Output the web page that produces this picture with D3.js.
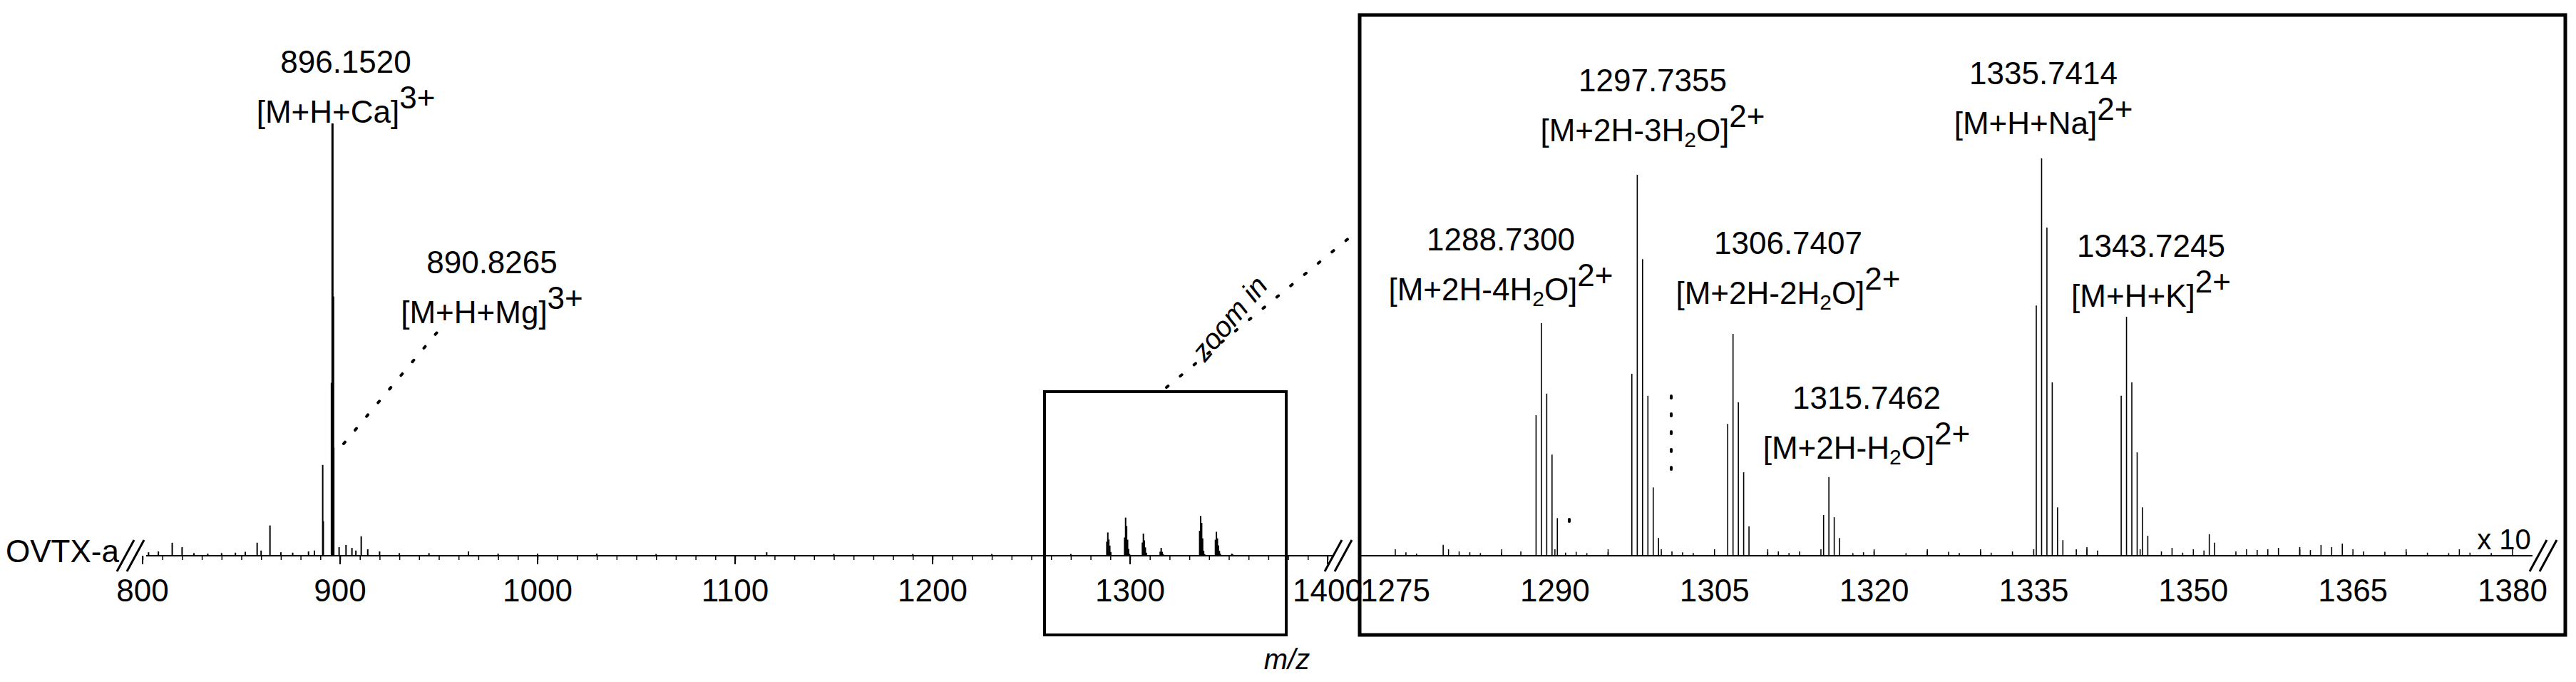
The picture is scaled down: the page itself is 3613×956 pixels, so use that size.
<!DOCTYPE html><html><head><meta charset="utf-8">
<script src="https://cdn.jsdelivr.net/npm/d3@7"></script>
<style>body{margin:0;background:#fff}text{font-family:"Liberation Sans",Arial,sans-serif;fill:#000}</style></head><body>
<svg id="c" width="3613" height="956"></svg>
<script>
// main spectrum peaks: m/z, relative intensity (%)
const mainMz  = [803,808,815,820,826,833,840,847,852,858,860,864.5,870,876,884,887,891.2,891.5,895.8,896.15,896.5,896.8,899.5,903,906,908,910.7,914,920,930,945,965,980,1000,1030,1060,1116,1150,1190,1230,1270];
const mainInt = [0.8,1.0,3.0,2.0,0.6,0.5,0.6,0.7,0.9,3.0,1.2,7.0,0.8,0.7,1.0,1.2,21,8,40,100,60,25,2,2.5,1.8,1.2,4.5,1.5,1.0,0.6,0.6,1.0,0.5,0.5,0.5,0.4,0.8,0.4,0.4,0.4,0.4];
// inset spectrum (zoom region), intensities in x10 display units (%)
const insetMz  = [1288.23,1288.73,1289.23,1289.73,1290.23, 1297.23,1297.74,1298.24,1298.74,1299.24,1299.74, 1306.24,1306.74,1307.24,1307.74,1308.24, 1315.25,1315.75,1316.25,1316.75, 1335.24,1335.74,1336.24,1336.74,1337.24,1337.74, 1343.22,1343.72,1344.22,1344.72,1345.22,1345.72, 1351.5,1352.0];
const insetInt = [32.5,53.8,37.5,23.4,8.7, 42.1,88.1,68.6,37.0,15.8,4.1, 30.5,51.3,35.5,19.3,6.8, 9.4,18.2,8.9,4.1, 57.9,91.9,75.9,40.1,11.2,3.6, 37.0,55.3,40.1,23.9,11.2,4.6, 5.0,3.0];
const noiseMz  = [1276,1277,1279.5,1281,1282,1283,1285,1286.8,1291,1292,1293,1295,1301,1302,1303,1310,1311,1312,1313,1318,1319,1320,1323,1325,1327,1328,1330,1331,1333,1339,1340,1341,1347,1348,1349,1351,1354,1356,1357,1358,1360,1361,1362,1363,1364,1366,1368,1370,1372,1374,1376,1378];
const noiseInt = [0.8,0.5,2.5,1.0,0.8,0.6,0.7,1.0,0.7,0.9,0.6,0.8,1.0,0.8,0.6,0.8,1.0,0.6,1.0,0.6,0.8,1.0,0.6,1.1,0.9,0.6,0.9,0.7,1.0,1.5,2.0,1.2,1.0,1.8,0.7,1.2,1.0,1.3,1.5,1.8,2.0,1.3,2.5,2.0,2.8,1.0,0.9,0.8,0.7,0.6,0.7,0.6];
const mainTicks  = [800,900,1000,1100,1200,1300,1400];
const insetTicks = [1275,1290,1305,1320,1335,1350,1365,1380];
const svg=d3.select("#c");
const base=779, FS=44;
const x=d3.scaleLinear().domain([800,1400]).range([200,1862]);
const y=d3.scaleLinear().domain([0,100]).range([base,base-606]);
const xi=d3.scaleLinear().domain([1275,1380]).range([1957,3524]);
const yi=d3.scaleLinear().domain([0,100]).range([base,base-606]);
const allMain=mainMz.map((m,i)=>[m,mainInt[i]]).concat(insetMz.map((m,i)=>[m,insetInt[i]/10]));
svg.append("g").selectAll("line").data(allMain).join("line")
 .attr("x1",d=>x(d[0])).attr("x2",d=>x(d[0])).attr("y1",base).attr("y2",d=>y(d[1]))
 .attr("stroke","#000").attr("stroke-width",d=>d[1]>30?3:2);
const gx=svg.append("g").attr("transform",`translate(0,${base})`)
 .call(d3.axisBottom(x).tickValues(d3.range(800,1401,10)).tickSize(6).tickFormat(""));
gx.select(".domain").remove();
gx.selectAll("line").attr("stroke-width",1.5);
svg.append("line").attr("x1",205).attr("x2",1870).attr("y1",base).attr("y2",base).attr("stroke","#000").attr("stroke-width",2);
svg.append("g").selectAll("line").data(mainTicks).join("line").attr("x1",d=>x(d)).attr("x2",d=>x(d)).attr("y1",base).attr("y2",base+12).attr("stroke","#000").attr("stroke-width",2);
svg.append("g").selectAll("text").data(mainTicks).join("text").attr("x",d=>x(d)).attr("y",base+64).attr("text-anchor","middle").attr("font-size",FS).text(d=>d);
const allIn=insetMz.map((m,i)=>[m,insetInt[i]]).concat(noiseMz.map((m,i)=>[m,noiseInt[i]]));
svg.append("g").selectAll("line").data(allIn).join("line")
 .attr("x1",d=>xi(d[0])).attr("x2",d=>xi(d[0])).attr("y1",base).attr("y2",d=>yi(d[1]))
 .attr("stroke","#000").attr("stroke-width",1.6);
svg.append("line").attr("x1",1905).attr("x2",3552).attr("y1",base).attr("y2",base).attr("stroke","#000").attr("stroke-width",2);
svg.append("g").selectAll("line").data(d3.range(1275,1381,5)).join("line").attr("x1",d=>xi(d)).attr("x2",d=>xi(d)).attr("y1",base).attr("y2",base-9).attr("stroke","#000").attr("stroke-width",1.5);
svg.append("g").selectAll("text").data(insetTicks).join("text").attr("x",d=>xi(d)).attr("y",base+64).attr("text-anchor","middle").attr("font-size",FS).text(d=>d);
function brk(cx){[-7,7].forEach(o=>svg.append("line").attr("x1",cx+o-12).attr("y1",base+22).attr("x2",cx+o+12).attr("y2",base-22).attr("stroke","#000").attr("stroke-width",3));}
brk(183);brk(1877);brk(3567);
svg.append("rect").attr("x",1907).attr("y",21).attr("width",1691).attr("height",869).attr("fill","none").attr("stroke","#000").attr("stroke-width",5);
svg.append("rect").attr("x",1465).attr("y",549).attr("width",339).attr("height",341).attr("fill","none").attr("stroke","#000").attr("stroke-width",4);
svg.append("text").attr("x",8).attr("y",788).attr("font-size",FS).text("OVTX-a");
svg.append("text").attr("x",1805).attr("y",938).attr("text-anchor","middle").attr("font-size",40).attr("font-style","italic").text("m/z");
svg.append("text").attr("x",3512).attr("y",770).attr("text-anchor","middle").attr("font-size",40).text("x 10");
function lab(cx,cy,num,parts){
 svg.append("text").attr("x",cx).attr("y",cy).attr("text-anchor","middle").attr("font-size",FS).text(num);
 const t=svg.append("text").attr("x",cx).attr("y",cy+70).attr("text-anchor","middle").attr("font-size",FS);
 parts.forEach(p=>{const s=t.append("tspan").text(p[0]);if(p[1]=="sub")s.attr("baseline-shift","-25%").attr("font-size",30);if(p[1]=="sup")s.attr("baseline-shift","45%");if(p[1]=="n")s.attr("baseline-shift","0");});
}
lab(485,102,"896.1520",[["[M+H+Ca]"],["3+","sup"]]);
lab(690,383,"890.8265",[["[M+H+Mg]"],["3+","sup"]]);
lab(2105,351,"1288.7300",[["[M+2H-4H"],["2","sub"],["O]","n"],["2+","sup"]]);
lab(2318,128,"1297.7355",[["[M+2H-3H"],["2","sub"],["O]","n"],["2+","sup"]]);
lab(2508,356,"1306.7407",[["[M+2H-2H"],["2","sub"],["O]","n"],["2+","sup"]]);
lab(2618,573,"1315.7462",[["[M+2H-H"],["2","sub"],["O]","n"],["2+","sup"]]);
lab(2866,118,"1335.7414",[["[M+H+Na]"],["2+","sup"]]);
lab(3017,360,"1343.7245",[["[M+H+K]"],["2+","sup"]]);
function dots(x1,y1,x2,y2){svg.append("line").attr("x1",x1).attr("y1",y1).attr("x2",x2).attr("y2",y2).attr("stroke","#000").attr("stroke-width",4).attr("stroke-dasharray","3 22").attr("stroke-linecap","round");}
dots(482,622,618,460);
dots(1636,543,1899,328);
dots(2344,555,2344,680);
dots(2201,728,2201,750);
svg.append("text").attr("transform","translate(1735,455) rotate(-50)").attr("text-anchor","middle").attr("font-size",40).attr("font-style","italic").text("zoom in");
</script></body></html>
